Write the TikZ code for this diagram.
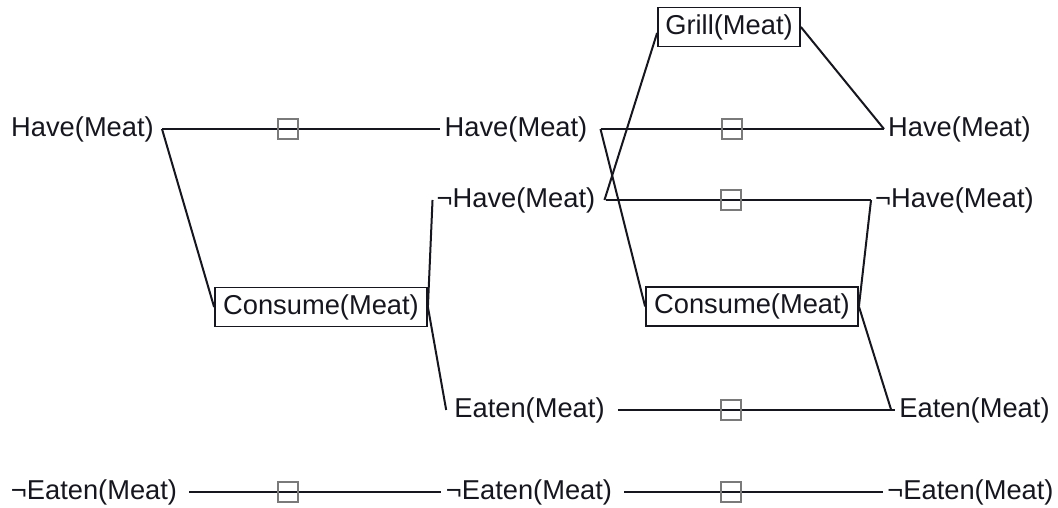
\documentclass[tikz,border=0pt]{standalone}
\usepackage{fontspec}
\setmainfont{Liberation Sans}
\definecolor{ink}{HTML}{16161E}
\definecolor{noopgray}{HTML}{7A7A7A}
\begin{document}
\begin{tikzpicture}[x=1pt,y=-1pt,
  lit/.style={inner sep=5pt, text=ink, font=\fontsize{27.3}{32}\selectfont},
  act/.style={draw=ink, line width=1.8pt, inner sep=3pt, text=ink, font=\fontsize{27.3}{32}\selectfont, minimum height=39pt},
  link/.style={draw=ink, line width=2pt},
  noop/.style={draw=noopgray, line width=1.1pt, minimum size=20pt, inner sep=0pt}]
\useasboundingbox (0,0) rectangle (1058,508);
% level 0
\node[lit] (h0) at (82.5,129) {Have(Meat)};
\node[lit] (ne0) at (94,492) {¬Eaten(Meat)};
% actions 0
\node[act, minimum width=212pt] (c0) at (321,307) {Consume(Meat)};
% level 1
\node[lit] (h1) at (516,129) {Have(Meat)};
\node[lit] (nh1) at (516,200) {¬Have(Meat)};
\node[lit] (e1) at (529.5,410) {Eaten(Meat)};
\node[lit] (ne1) at (529,492) {¬Eaten(Meat)};
% actions 1
\node[act, minimum width=142pt] (g1) at (729,27) {Grill(Meat)};
\node[act, minimum width=212pt] (c1) at (752,306.5) {Consume(Meat)};
% level 2
\node[lit] (h2) at (959.5,129) {Have(Meat)};
\node[lit] (nh2) at (954.5,200) {¬Have(Meat)};
\node[lit] (e2) at (974.5,410) {Eaten(Meat)};
\node[lit] (ne2) at (970.5,492) {¬Eaten(Meat)};
% persistence (no-op) links
\draw[link] ([xshift=3pt]h0.east) -- (h1.west);
\draw[link] ([xshift=7pt]ne0.east) -- (ne1.west);
\draw[link] ([xshift=8pt]h1.east) -- ([xshift=1pt]h2.west);
\draw[link] ([xshift=6pt]nh1.east) -- ([xshift=1pt]nh2.west);
\draw[link] ([xshift=8pt]e1.east) -- ([xshift=1pt]e2.west);
\draw[link] ([xshift=7pt]ne1.east) -- ([xshift=1pt]ne2.west);
% action links
\draw[link] ([xshift=3pt]h0.east) -- (c0.west);
\draw[link] (c0.east) -- ([xshift=1pt]nh1.west);
\draw[link] (c0.east) -- ([xshift=-3pt]e1.west);
\draw[link] ([xshift=8pt]h1.east) -- (c1.west);
\draw[link] ([xshift=4pt]nh1.east) -- ([yshift=-6pt]g1.west);
\draw[link] (g1.east) -- ([xshift=1pt]h2.west);
\draw[link] (c1.east) -- ([xshift=1pt]nh2.west);
\draw[link] (c1.east) -- ([xshift=-3pt]e2.west);
% no-op markers
\node[noop] (n1) at (288,129) {};
\node[noop] (n2) at (288,492) {};
\node[noop] (n3) at (732,129) {};
\node[noop] (n4) at (731,200) {};
\node[noop] (n5) at (731,410) {};
\node[noop] (n6) at (731,492) {};
\end{tikzpicture}
\end{document}
